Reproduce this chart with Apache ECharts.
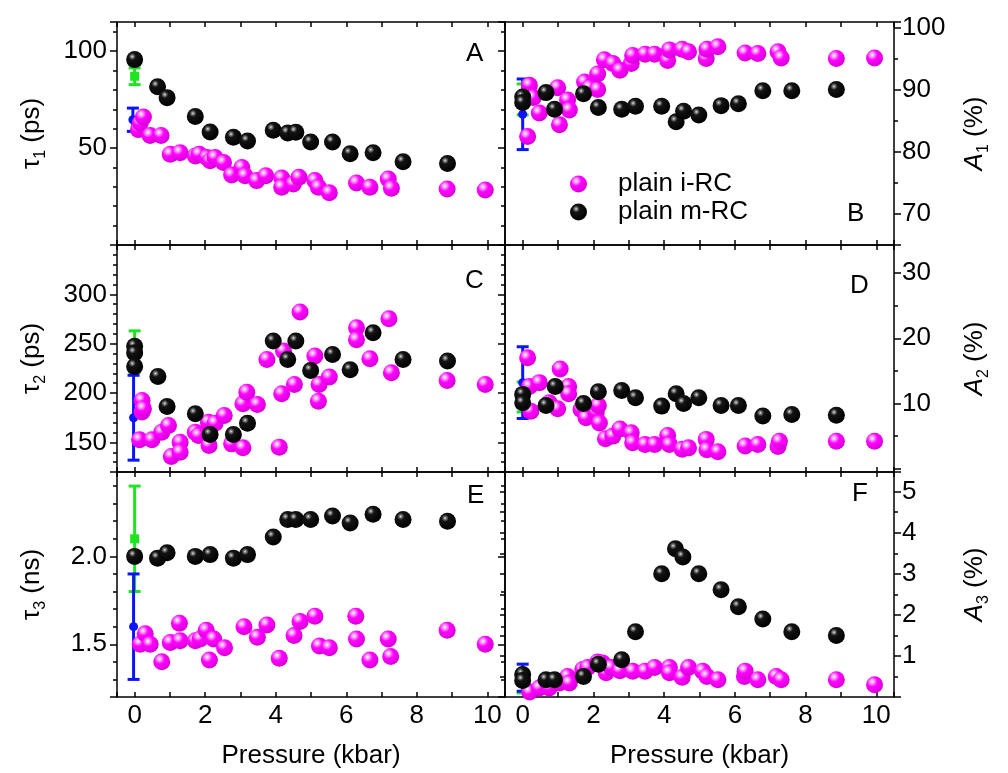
<!DOCTYPE html>
<html>
<head>
<meta charset="utf-8">
<script src="https://cdn.jsdelivr.net/npm/echarts@6/dist/echarts.min.js"></script>
<style>
  html, body { margin: 0; background: #fff; }
  #chart { width: 1008px; height: 773px; }
</style>
</head>
<body>
<div id="chart"></div>
<script>
const FONT = '"Liberation Sans", Arial, sans-serif';

// ---- data: [pressure (kbar), value] ----
// panel A: tau1 (ps)
const tau1_iRC = [[0.11,59.5],[0.16,62.9],[0.25,66.0],[0.44,56.5],[0.75,56.5],[1.01,46.8],[1.29,47.6],[1.72,45.9],[1.83,46.8],[2.05,45.1],[2.14,43.4],[2.28,45.1],[2.52,42.5],[2.75,36.1],[3.04,40.0],[3.13,35.7],[3.46,33.2],[3.72,35.7],[4.17,34.5],[4.17,29.8],[4.5,31.5],[4.66,34.9],[5.11,33.2],[5.21,29.8],[5.52,26.9],[6.29,32.0],[6.67,29.8],[7.19,34.0],[7.28,29.3],[8.86,28.9],[9.94,28.4]];
const tau1_mRC = [[0,95.6],[0.65,81.6],[0.92,76.0],[1.72,66.3],[2.14,58.3],[2.8,55.6],[3.2,53.6],[3.93,59.2],[4.34,57.8],[4.57,58.2],[4.99,53.1],[5.61,53.1],[6.11,47.1],[6.76,47.6],[7.61,42.9],[8.87,42.0]];
// panel B: A1 (%)
const a1_iRC = [[0.14,82.5],[0.19,90.8],[0.3,88.8],[0.47,86.3],[0.99,90.4],[1.04,84.4],[1.27,88.4],[1.32,86.8],[1.75,91.3],[1.89,90.4],[2.12,90.1],[2.12,92.6],[2.31,94.9],[2.55,94.3],[2.75,93.2],[3.07,94.3],[3.11,95.6],[3.46,95.8],[3.73,95.8],[4.1,94.8],[4.15,96.5],[4.51,96.6],[4.69,96.2],[5.19,95.1],[5.21,96.6],[5.52,97.0],[6.29,96.0],[6.65,95.9],[7.22,96.2],[7.31,95.2],[8.87,95.1],[9.95,95.2]];
const a1_mRC = [[0,88.9],[0,88.0],[0.66,89.6],[0.9,86.9],[1.72,89.4],[2.14,87.2],[2.8,86.9],[3.19,87.4],[3.93,87.4],[4.34,84.9],[4.55,86.6],[4.98,86.0],[5.61,87.5],[6.1,87.8],[6.79,89.9],[7.61,89.9],[8.87,90.1]];
// panel C: tau2 (ps)
const tau2_iRC = [[0.14,152.6],[0.21,192.5],[0.21,180.7],[0.25,184.0],[0.49,152.6],[0.77,160.4],[0.96,167.1],[1.04,135.7],[1.29,150.2],[1.29,140.1],[1.72,160.4],[1.81,157.0],[2.09,170.5],[2.11,146.9],[2.28,169.5],[2.54,177.3],[2.75,148.5],[3.07,144.5],[3.07,189.1],[3.18,200.9],[3.48,188.4],[3.75,234.1],[4.10,145.2],[4.17,199.3],[4.22,242.5],[4.53,208.7],[4.69,282.1],[5.11,237.5],[5.21,191.8],[5.23,208.7],[5.52,216.2],[6.29,266.2],[6.29,254.0],[6.67,234.8],[7.21,275.3],[7.28,220.6],[8.86,212.8],[9.94,208.7]];
const tau2_mRC = [[0,247.3],[0,240.5],[0,227.0],[0.66,216.8],[0.92,186.4],[1.72,179.0],[2.14,158.0],[2.8,158.0],[3.2,169.5],[3.93,252.7],[4.34,234.1],[4.57,252.7],[4.99,222.9],[5.61,239.1],[6.11,223.6],[6.76,261.1],[7.61,234.1],[8.87,232.4]];
// panel D: A2 (%)
const a2_iRC = [[0.14,17.0],[0.19,12.6],[0.23,8.8],[0.47,13.2],[0.75,10.1],[0.99,9.2],[1.06,15.3],[1.3,12.6],[1.3,11.5],[1.65,9.1],[1.79,7.8],[2.08,8.6],[2.14,9.7],[2.17,7.0],[2.34,4.6],[2.55,5.0],[2.75,6.1],[3.07,5.5],[3.11,4.0],[3.46,3.7],[3.73,3.7],[4.1,5.1],[4.15,3.7],[4.51,3.0],[4.69,3.2],[5.19,4.5],[5.21,2.9],[5.52,2.6],[6.29,3.5],[6.65,3.7],[7.22,3.4],[7.26,4.2],[8.87,4.2],[9.95,4.2]];
const a2_mRC = [[0,11.4],[0,10.1],[0.66,9.7],[0.92,12.6],[1.72,10.0],[2.14,11.8],[2.8,12.0],[3.19,10.9],[3.93,9.6],[4.34,11.5],[4.55,10.0],[4.98,10.9],[5.61,9.7],[6.1,9.7],[6.79,8.1],[7.61,8.3],[8.87,8.2]];
// panel E: tau3 (ns)
const tau3_iRC = [[0.16,1.50],[0.3,1.56],[0.44,1.50],[0.77,1.40],[1.01,1.51],[1.27,1.62],[1.29,1.52],[1.72,1.52],[1.86,1.53],[2.03,1.58],[2.12,1.41],[2.24,1.53],[2.55,1.48],[3.10,1.60],[3.48,1.54],[3.75,1.61],[4.10,1.42],[4.52,1.55],[4.69,1.63],[5.11,1.66],[5.24,1.49],[5.52,1.48],[6.27,1.66],[6.29,1.53],[6.67,1.41],[7.19,1.53],[7.26,1.43],[8.86,1.58],[9.94,1.50]];
const tau3_mRC = [[0,2.00],[0.65,1.99],[0.92,2.02],[1.72,2.00],[2.14,2.01],[2.8,1.99],[3.2,2.01],[3.93,2.11],[4.34,2.21],[4.57,2.21],[4.99,2.21],[5.61,2.23],[6.11,2.19],[6.76,2.24],[7.61,2.21],[8.87,2.20]];
// panel F: A3 (%)
const a3_iRC = [[0.2,0.12],[0.47,0.22],[0.75,0.22],[1.04,0.34],[1.27,0.50],[1.32,0.34],[1.7,0.67],[1.84,0.72],[2.12,0.85],[2.26,0.83],[2.36,0.59],[2.5,0.72],[2.75,0.64],[3.11,0.63],[3.46,0.63],[3.73,0.72],[4.15,0.72],[4.15,0.59],[4.51,0.48],[4.69,0.72],[5.09,0.63],[5.21,0.50],[5.52,0.42],[6.27,0.50],[6.29,0.63],[6.65,0.42],[7.17,0.50],[7.31,0.42],[8.87,0.42],[9.95,0.30]];
const a3_mRC = [[0,0.55],[0,0.40],[0.66,0.42],[0.9,0.42],[1.72,0.50],[2.14,0.80],[2.8,0.91],[3.19,1.59],[3.93,3.0],[4.32,3.61],[4.53,3.41],[4.98,3.0],[5.61,2.61],[6.1,2.20],[6.79,1.90],[7.61,1.59],[8.87,1.50]];

// error bars at 0 kbar, one per panel A..F: [pressure, centre, half-width]
const greenErr = [[0,87,4.3],[0,88.5,2.5],[0,242,21],[0,11,2.3],[0,2.1,0.3],[0,0.35,0.25]];
const blueErr = [[-0.05,64.6,6],[0,86.1,5.7],[-0.03,175,43],[0,13.2,5.5],[-0.03,1.6,0.3],[0,0.47,0.33]];

const panels = [
  { letter: 'A', iRC: tau1_iRC, mRC: tau1_mRC, min: 0, max: 115, major: 50, minor: 10, dec: 0, title: '{t|τ}{s|1}{t| (ps)}' },
  { letter: 'B', iRC: a1_iRC, mRC: a1_mRC, min: 65, max: 101, major: 10, minor: 5, dec: 0, title: '{a|A}{s|1}{t| (%)}' },
  { letter: 'C', iRC: tau2_iRC, mRC: tau2_mRC, min: 120, max: 350, major: 50, minor: 10, dec: 0, title: '{t|τ}{s|2}{t| (ps)}' },
  { letter: 'D', iRC: a2_iRC, mRC: a2_mRC, min: -0.5, max: 34.3, major: 10, minor: 5, dec: 0, title: '{a|A}{s|2}{t| (%)}' },
  { letter: 'E', iRC: tau3_iRC, mRC: tau3_mRC, min: 1.2, max: 2.48, major: 0.5, minor: 0.1, dec: 1, title: '{t|τ}{s|3}{t| (ns)}' },
  { letter: 'F', iRC: a3_iRC, mRC: a3_mRC, min: 0, max: 5.48, major: 1, minor: 0.5, dec: 0, title: '{a|A}{s|3}{t| (%)}' }
];

const colLeft = [117, 505], colWidth = [388, 389];
const rowTop = [22, 245, 472], rowHeight = [223, 227, 225];
const letterPos = [[461, 36], [842, 196], [460, 263], [845, 268], [462, 478], [847, 476]];

const pinkBall = { type: 'radial', x: 0.36, y: 0.32, r: 0.68, colorStops: [
  { offset: 0, color: '#ffffff' }, { offset: 0.16, color: '#ffa8ff' },
  { offset: 0.45, color: '#ff00ff' }, { offset: 1, color: '#d800d8' }] };
const blackBall = { type: 'radial', x: 0.36, y: 0.32, r: 0.68, colorStops: [
  { offset: 0, color: '#e8e8e8' }, { offset: 0.1, color: '#8a8a8a' },
  { offset: 0.3, color: '#141414' }, { offset: 1, color: '#000000' }] };

const txt = { fontFamily: FONT, fontSize: 26, color: '#000' };
const rich = {
  t: { fontFamily: FONT, fontSize: 26, color: '#000', lineHeight: 34 },
  a: { fontFamily: FONT, fontSize: 26, color: '#000', lineHeight: 34, fontStyle: 'italic' },
  s: { fontFamily: FONT, fontSize: 16, color: '#000', lineHeight: 16, verticalAlign: 'bottom' }
};

function onStep(v, step) {
  return Math.abs(v / step - Math.round(v / step)) < 1e-6;
}

function xAx(gi, pos, labels) {
  return {
    type: 'value', gridIndex: gi, position: pos, min: -0.5, max: 10.5,
    minInterval: 1, maxInterval: 1,
    axisLine: { show: false, onZero: false }, splitLine: { show: false },
    axisTick: { show: true, inside: true, length: 5, lineStyle: { color: '#000', width: 1.5 } },
    axisLabel: { show: labels, margin: 6, ...txt,
      formatter: v => (onStep(v, 2) && v >= 0 && v <= 10) ? String(Math.round(v)) : '' },
    name: labels ? 'Pressure (kbar)' : '', nameLocation: 'middle', nameGap: 46,
    nameTextStyle: txt
  };
}

function yAx(p, gi, side, step, len, inside, labels) {
  const span = p.max - p.min;
  return {
    type: 'value', gridIndex: gi, position: side, min: p.min, max: p.max,
    minInterval: step, maxInterval: step,
    axisLine: { show: false, onZero: false }, splitLine: { show: false },
    axisTick: { show: true, inside: inside, length: len, lineStyle: { color: '#000', width: 1.5 } },
    axisLabel: { show: labels, margin: side === 'left' ? 10 : 8, ...txt,
      formatter: v => (onStep(v, p.major) && v - p.min > 0.02 * span && p.max - v > 0.02 * span)
        ? v.toFixed(p.dec) : '' },
    name: labels ? p.title : '', nameLocation: 'middle', nameRotate: 90,
    nameGap: side === 'left' ? 68 : 64,
    nameTextStyle: { ...txt, rich: rich }
  };
}

function renderErr(params, api) {
  const x = api.value(0), c = api.value(1), e = api.value(2), k = api.value(3);
  const top = api.coord([x, c + e]), bot = api.coord([x, c - e]), mid = api.coord([x, c]);
  const col = k ? '#0a14ff' : '#1ee61e';
  const st = { stroke: col, lineWidth: 3 };
  return {
    type: 'group',
    children: [
      { type: 'line', shape: { x1: top[0], y1: top[1], x2: bot[0], y2: bot[1] }, style: st },
      { type: 'line', shape: { x1: top[0] - 6, y1: top[1], x2: top[0] + 6, y2: top[1] }, style: st },
      { type: 'line', shape: { x1: bot[0] - 6, y1: bot[1], x2: bot[0] + 6, y2: bot[1] }, style: st },
      k ? { type: 'circle', shape: { cx: mid[0], cy: mid[1], r: 4.5 }, style: { fill: col } }
        : { type: 'rect', shape: { x: mid[0] - 4.5, y: mid[1] - 4.5, width: 9, height: 9 }, style: { fill: col } }
    ]
  };
}

const grid = [], xAxis = [], yAxis = [], series = [], title = [];

panels.forEach((p, i) => {
  const col = i % 2, row = Math.floor(i / 2);
  grid.push({ left: colLeft[col], top: rowTop[row], width: colWidth[col], height: rowHeight[row],
    show: true, borderColor: '#000', borderWidth: 1.5, backgroundColor: 'transparent' });

  const xi = xAxis.length;
  xAxis.push(xAx(i, 'bottom', row === 2));
  xAxis.push(xAx(i, 'top', false));

  const side = col ? 'right' : 'left';
  const yi = yAxis.length;
  yAxis.push(yAx(p, i, side, p.major, 7, false, true));
  yAxis.push(yAx(p, i, side, p.minor, 4, false, false));
  if (col === 0) {
    yAxis.push(yAx(p, i, 'right', p.major, 7, true, false));
    yAxis.push(yAx(p, i, 'right', p.minor, 4, true, false));
  } else if (i === 5) {
    yAxis.push(yAx(p, i, 'left', p.minor, 5, false, false));
  }

  title.push({ text: p.letter, left: letterPos[i][0], top: letterPos[i][1],
    textStyle: { ...txt, fontWeight: 'normal' } });

  series.push({
    type: 'custom', xAxisIndex: xi, yAxisIndex: yi, z: 2, renderItem: renderErr,
    data: [[...greenErr[i], 0], [...blueErr[i], 1]]
  });
  series.push({
    type: 'scatter', name: 'plain i-RC', xAxisIndex: xi, yAxisIndex: yi, z: 3,
    symbol: 'circle', symbolSize: 17, data: p.iRC, itemStyle: { color: pinkBall, opacity: 1 }
  });
  series.push({
    type: 'scatter', name: 'plain m-RC', xAxisIndex: xi, yAxisIndex: yi, z: 4,
    symbol: 'circle', symbolSize: 17, data: p.mRC, itemStyle: { color: blackBall, opacity: 1 }
  });
});

const chart = echarts.init(document.getElementById('chart'), null, { renderer: 'canvas' });
chart.setOption({
  backgroundColor: '#fff',
  animation: false,
  title: title,
  legend: {
    data: [{ name: 'plain i-RC', icon: 'circle' }, { name: 'plain m-RC', icon: 'circle' }],
    orient: 'vertical', left: 565, top: 166, itemWidth: 17, itemHeight: 17, itemGap: 2,
    selectedMode: false,
    textStyle: { ...txt, padding: [0, 0, 0, 26] }
  },
  grid: grid,
  xAxis: xAxis,
  yAxis: yAxis,
  series: series
});
</script>
</body>
</html>
